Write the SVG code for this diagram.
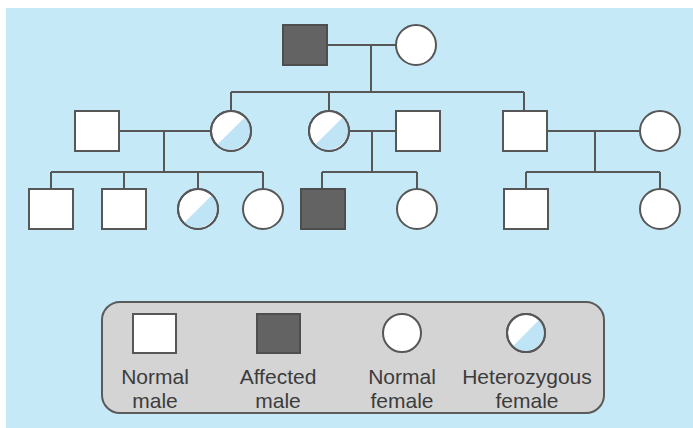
<svg xmlns="http://www.w3.org/2000/svg" width="693" height="428" viewBox="0 0 693 428">
  <defs>
    <style>
      .bg { fill: #c6e9f8; }
      .line { stroke: #575757; stroke-width: 2; fill: none; }
      .male { fill: #ffffff; stroke: #575757; stroke-width: 2; }
      .affected { fill: #636363; stroke: #4e4e4e; stroke-width: 2; }
      .female { fill: #ffffff; stroke: #575757; stroke-width: 2; }
      .outline { fill: none; stroke: #575757; stroke-width: 2; }
      .carrier { fill: #bfe4f6; }
      .legend-box { fill: #d4d4d4; stroke: #5a5a5a; stroke-width: 2; }
      .label { font-family: "Liberation Sans", Arial, sans-serif; font-size: 21px; fill: #3c3c3c; text-anchor: middle; }
    </style>
  </defs>

  <!-- page background -->
  <rect x="0" y="0" width="693" height="428" fill="#ffffff"/>
  <rect class="bg" x="6" y="8" width="687" height="420"/>

  <!-- connectors -->
  <g id="connectors">
    <!-- generation I couple and sibship -->
    <path class="line" d="M327 45 H396 M371 45 V92 M231 92 H524"/>
    <path class="line" d="M231 92 V111 M329 92 V111 M524 92 V111"/>
    <!-- left family -->
    <path class="line" d="M119 131 H211 M164 131 V172 M51 172 H263"/>
    <path class="line" d="M51 172 V189 M124 172 V189 M198 172 V189 M263 172 V189"/>
    <!-- middle family -->
    <path class="line" d="M349 131 H396 M372 131 V172 M322 172 H417 M322 172 V189 M417 172 V189"/>
    <!-- right family -->
    <path class="line" d="M547 131 H640 M595 131 V172 M526 172 H660 M526 172 V189 M660 172 V189"/>
  </g>

  <!-- generation I -->
  <g id="grandfather"><rect class="affected" x="283" y="25" width="44" height="40"/></g>
  <g id="grandmother"><circle class="female" cx="416" cy="45" r="20"/></g>

  <!-- generation II -->
  <g id="husband-left"><rect class="male" x="75" y="111" width="44" height="40"/></g>
  <g id="daughter-left">
    <circle class="female" cx="231" cy="131" r="20"/>
    <path class="carrier" d="M245.1 116.9 A20 20 0 0 1 216.9 145.1 Z"/>
    <circle class="outline" cx="231" cy="131" r="20"/>
  </g>
  <g id="daughter-middle">
    <circle class="female" cx="329" cy="131" r="20"/>
    <path class="carrier" d="M343.1 116.9 A20 20 0 0 1 314.9 145.1 Z"/>
    <circle class="outline" cx="329" cy="131" r="20"/>
  </g>
  <g id="husband-middle"><rect class="male" x="396" y="111" width="44" height="40"/></g>
  <g id="son-right"><rect class="male" x="503" y="111" width="44" height="40"/></g>
  <g id="wife-right"><circle class="female" cx="660" cy="131" r="20"/></g>

  <!-- generation III -->
  <g id="grandson-1"><rect class="male" x="29" y="189" width="44" height="40"/></g>
  <g id="grandson-2"><rect class="male" x="102" y="189" width="44" height="40"/></g>
  <g id="granddaughter-1">
    <circle class="female" cx="198" cy="209" r="20"/>
    <path class="carrier" d="M212.1 194.9 A20 20 0 0 1 183.9 223.1 Z"/>
    <circle class="outline" cx="198" cy="209" r="20"/>
  </g>
  <g id="granddaughter-2"><circle class="female" cx="263" cy="209" r="20"/></g>
  <g id="grandson-3"><rect class="affected" x="301" y="189" width="44" height="40"/></g>
  <g id="granddaughter-3"><circle class="female" cx="417" cy="209" r="20"/></g>
  <g id="grandson-4"><rect class="male" x="504" y="189" width="44" height="40"/></g>
  <g id="granddaughter-4"><circle class="female" cx="660" cy="209" r="20"/></g>

  <!-- key -->
  <g id="legend">
    <rect class="legend-box" x="102" y="302" width="502" height="111" rx="18" ry="18"/>
    <g id="key-normal-male">
      <rect class="male" x="133" y="314" width="43" height="39"/>
      <text class="label" x="155" y="384">Normal</text>
      <text class="label" x="155" y="408">male</text>
    </g>
    <g id="key-affected-male">
      <rect class="affected" x="257" y="314" width="43" height="39"/>
      <text class="label" x="278" y="384">Affected</text>
      <text class="label" x="278" y="408">male</text>
    </g>
    <g id="key-normal-female">
      <circle class="female" cx="402" cy="333" r="19"/>
      <text class="label" x="402" y="384">Normal</text>
      <text class="label" x="402" y="408">female</text>
    </g>
    <g id="key-carrier-female">
      <circle class="female" cx="526" cy="333" r="19"/>
      <path class="carrier" d="M539.4 319.6 A19 19 0 0 1 512.6 346.4 Z"/>
      <circle class="outline" cx="526" cy="333" r="19"/>
      <text class="label" x="527" y="384">Heterozygous</text>
      <text class="label" x="527" y="408">female</text>
    </g>
  </g>
</svg>
